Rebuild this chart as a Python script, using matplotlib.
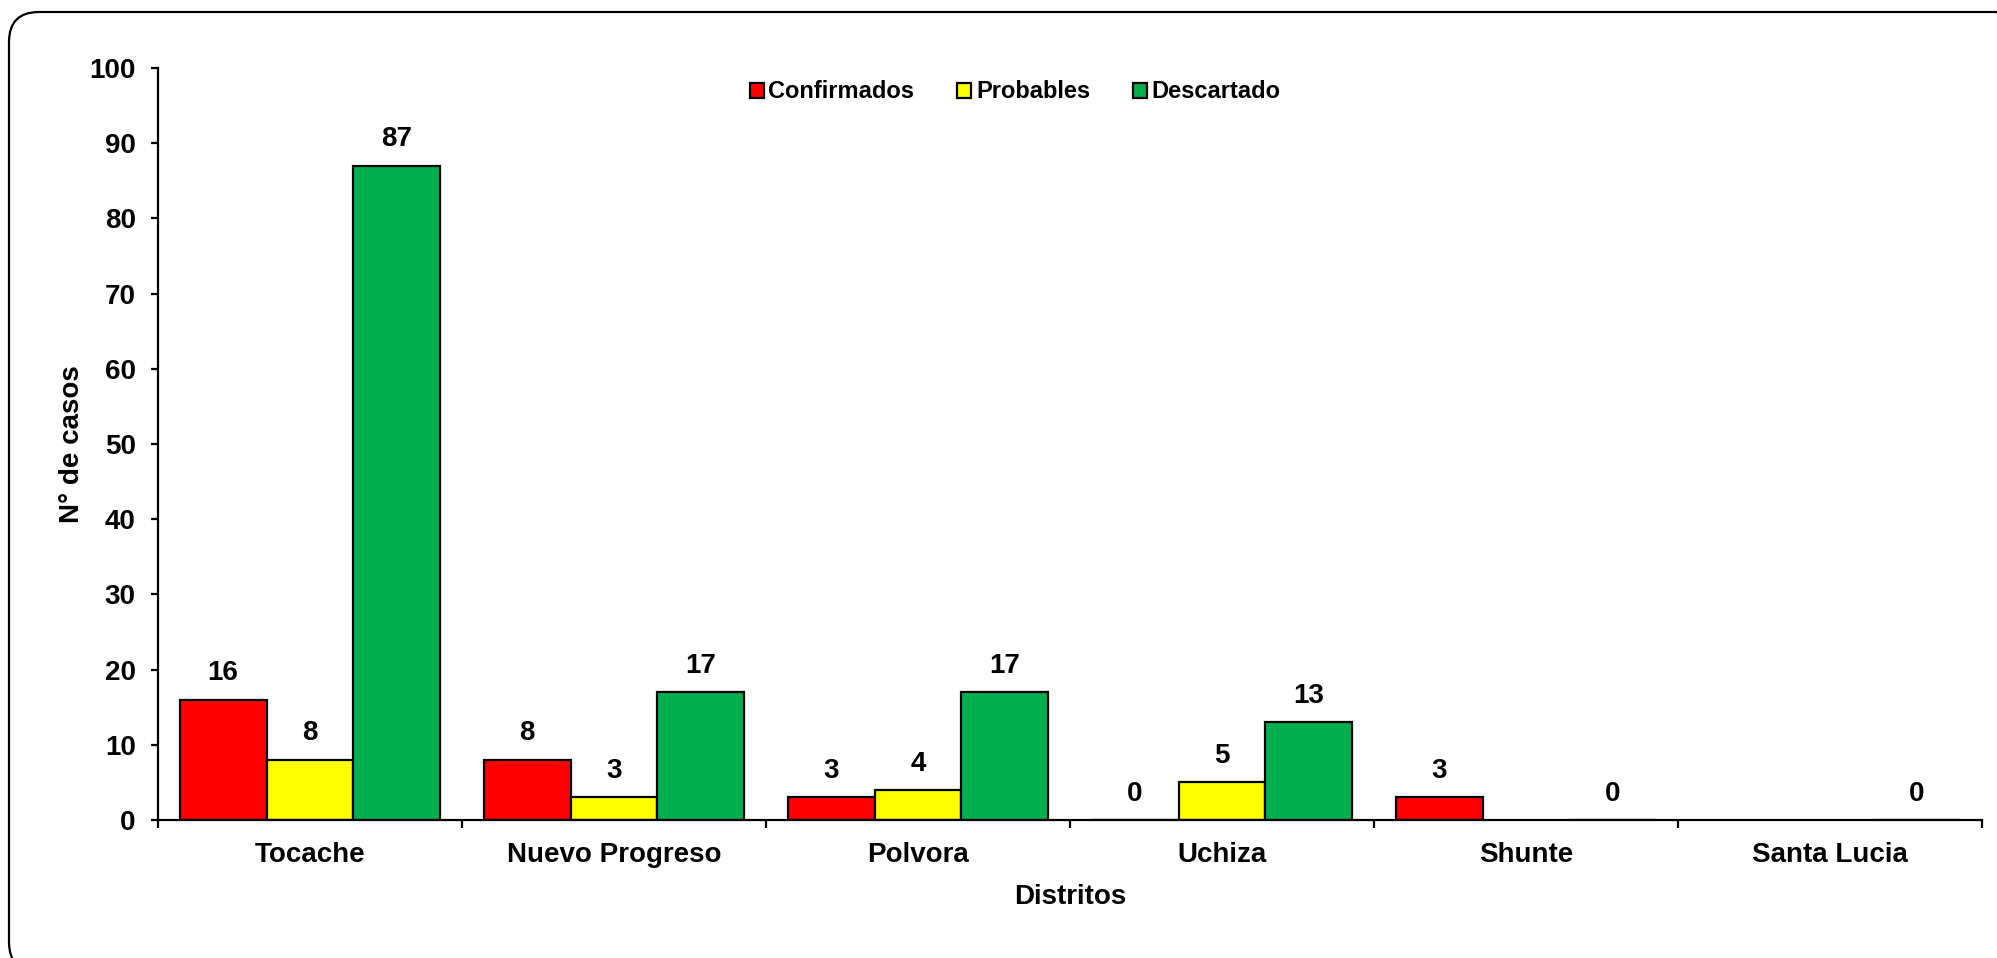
import matplotlib
matplotlib.use("Agg")
import matplotlib.pyplot as plt
import numpy as np
from matplotlib.patches import FancyBboxPatch
from matplotlib.transforms import IdentityTransform

plt.rcParams["font.family"] = ["Liberation Sans", "DejaVu Sans"]
plt.rcParams["font.weight"] = "bold"

DISTRITOS = ["Tocache", "Nuevo Progreso", "Polvora", "Uchiza", "Shunte", "Santa Lucia"]
CONFIRMADOS = [16, 8, 3, 0, 3, None]
PROBABLES = [8, 3, 4, 5, None, None]
DESCARTADO = [87, 17, 17, 13, 0, 0]
SERIES = [
    ("Confirmados", CONFIRMADOS, "#FF0000"),
    ("Probables", PROBABLES, "#FFFF00"),
    ("Descartado", DESCARTADO, "#00B050"),
]

W, H = 1997, 958
fig = plt.figure(figsize=(W / 100, H / 100), dpi=100)

# rounded frame, partly cut off at the right and bottom edges
frame = FancyBboxPatch(
    (9, H - 972), 2026 - 9, 972 - 12,
    boxstyle="round,pad=0,rounding_size=30",
    transform=IdentityTransform(), facecolor="none", edgecolor="black", linewidth=1.6,
)
fig.patches.append(frame)

ax = fig.add_axes([158 / W, 1 - 820 / H, (1982 - 158) / W, (820 - 68) / H])

x = np.arange(len(DISTRITOS))
width = 0.286
for i, (name, values, color) in enumerate(SERIES):
    pos = x + (i - 1) * width
    vals = [np.nan if v is None else v for v in values]
    ax.bar(pos, vals, width, color=color, edgecolor="black", linewidth=1.6, label=name)
    for px, v in zip(pos, values):
        if v is None:
            continue
        ax.annotate(str(v), (px, v), xytext=(0, 19), textcoords="offset points",
                    ha="center", va="center", fontsize=20, fontweight="bold")

ax.set_xlim(-0.5, len(DISTRITOS) - 0.5)
ax.set_ylim(0, 100)
ax.set_yticks(range(0, 101, 10))
ax.set_xticks(x)
ax.set_xticklabels(DISTRITOS)
ax.set_xticks(np.arange(-0.5, len(DISTRITOS), 1.0), minor=True)

for side in ["top", "right"]:
    ax.spines[side].set_visible(False)
for side in ["left", "bottom"]:
    ax.spines[side].set_linewidth(1.6)

ax.tick_params(axis="y", length=5, width=1.6, pad=11, labelsize=20)
ax.tick_params(axis="x", which="major", length=0, pad=16, labelsize=20)
ax.tick_params(axis="x", which="minor", length=6, width=1.6)
for lab in ax.get_xticklabels() + ax.get_yticklabels():
    lab.set_fontweight("bold")

ax.set_ylabel("N° de casos", fontsize=20, fontweight="bold", va="center")
ax.yaxis.set_label_coords(-0.047, 0.5)
ax.set_xlabel("Distritos", fontsize=20, fontweight="bold", va="center")
ax.xaxis.set_label_coords(0.5, -0.102)

ax.legend(loc="center", bbox_to_anchor=((1015 - 158) / 1824, (820 - 92) / 752),
          ncol=3, frameon=False, handlelength=0.6, handleheight=0.6,
          handletextpad=0.2, columnspacing=1.8, prop={"weight": "bold", "size": 17})

fig.savefig("out.png", dpi=100)
